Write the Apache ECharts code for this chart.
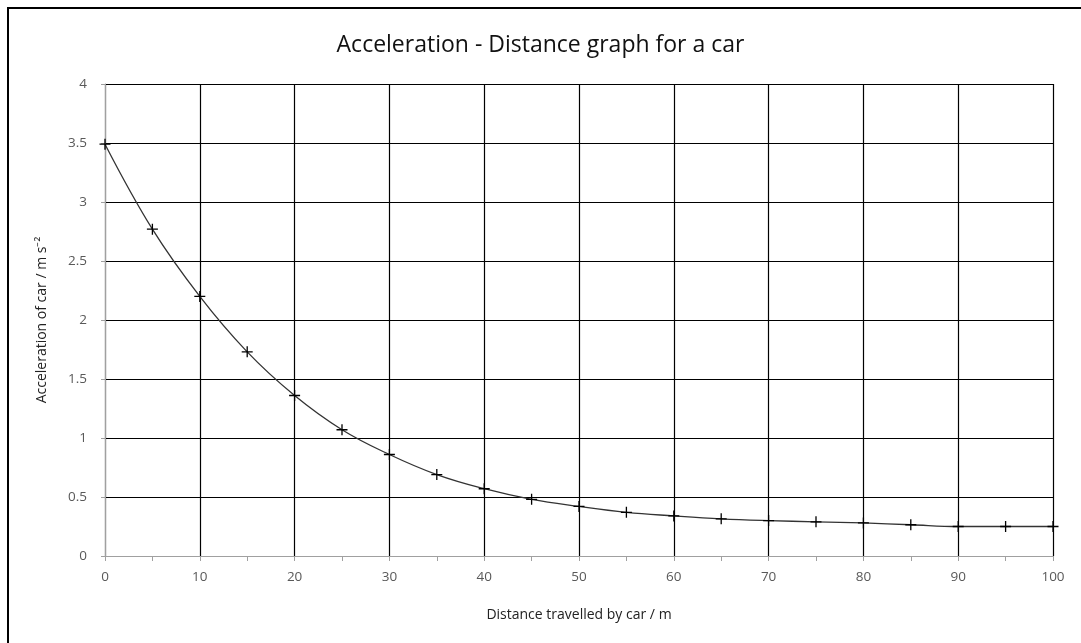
<!DOCTYPE html>
<html>
<head>
<meta charset="utf-8">
<script src="https://cdn.jsdelivr.net/npm/echarts@6/dist/echarts.min.js"></script>
<style>
html,body{margin:0;padding:0;background:#fff;overflow:hidden;}
#frame{position:absolute;left:7px;top:7px;width:1200px;height:800px;border-left:2px solid #000;border-top:2px solid #000;box-sizing:border-box;}
#chart{position:absolute;left:0;top:0;width:1081px;height:643px;}
</style>
</head>
<body>
<div id="frame"></div>
<div id="chart"></div>
<script>
const titleText = 'Acceleration - Distance graph for a car';
const xName = 'Distance travelled by car / m';
const yName = 'Acceleration of car / m s\u207B\u00B2';
const distances = [0,5,10,15,20,25,30,35,40,45,50,55,60,65,70,75,80,85,90,95,100];
const accelerations = [3.49,2.77,2.20,1.73,1.36,1.07,0.86,0.69,0.57,0.48,0.42,0.37,0.34,0.315,0.30,0.29,0.28,0.265,0.25,0.25,0.25];

const points = distances.map((d,i)=>[d, accelerations[i]]);
const font = 'Open Sans';
const chart = echarts.init(document.getElementById('chart'));
chart.setOption({
  animation:false,
  backgroundColor:'transparent',
  title:{text:titleText,left:'center',top:29,textStyle:{fontFamily:font,fontSize:23,fontWeight:'normal',color:'#111'}},
  grid:{left:105,right:28,top:84,bottom:87},
  xAxis:{type:'value',min:0,max:100,interval:10,
    name:xName,nameLocation:'middle',nameGap:52,
    nameTextStyle:{fontFamily:font,fontSize:14,color:'#222'},
    axisLine:{show:true,lineStyle:{color:'#a0a0a0',width:1}},
    axisTick:{show:true,length:5,lineStyle:{color:'#a0a0a0'}},
    minorTick:{show:true,splitNumber:2,length:5,lineStyle:{color:'#a0a0a0'}},
    axisLabel:{fontFamily:font,fontSize:13.5,color:'#595959',margin:14},
    splitLine:{show:true,lineStyle:{color:'#000',width:1.2}}},
  yAxis:{type:'value',min:0,max:4,interval:0.5,
    name:yName,nameLocation:'middle',nameGap:56,nameRotate:90,
    nameTextStyle:{fontFamily:font,fontSize:14,color:'#222'},
    axisLine:{show:true,lineStyle:{color:'#a0a0a0',width:1}},
    axisTick:{show:true,length:4,lineStyle:{color:'#a0a0a0'}},
    axisLabel:{fontFamily:font,fontSize:13.5,color:'#595959',margin:18},
    splitLine:{show:true,lineStyle:{color:'#000',width:1.2}}},
  series:[{type:'line',data:points,smooth:0.4,
    lineStyle:{color:'#333',width:1.3},
    symbol:'path://M0,5L10,5M5,0L5,10',symbolSize:11,showSymbol:true,
    itemStyle:{color:'transparent',borderColor:'#000',borderWidth:1.3},
    clip:false}]
});
</script>
</body>
</html>
